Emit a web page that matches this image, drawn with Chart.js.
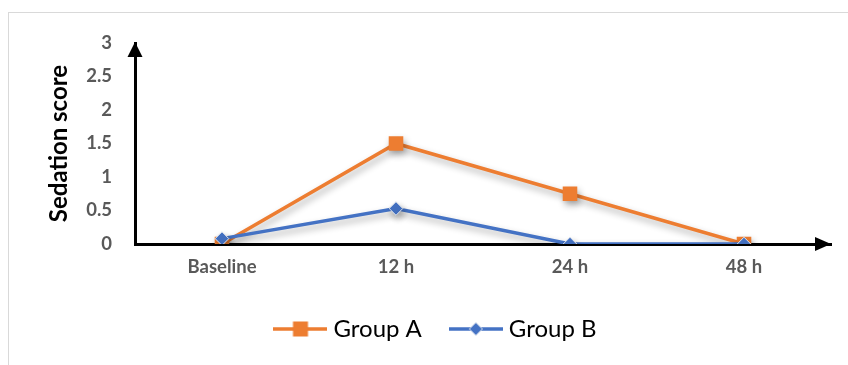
<!DOCTYPE html>
<html>
<head>
<meta charset="utf-8">
<script src="https://cdn.jsdelivr.net/npm/chart.js@4.4.1/dist/chart.umd.min.js"></script>
<style>
  html, body { margin: 0; padding: 0; background: #fff; overflow: hidden; }
  #wrap { position: relative; width: 848px; height: 365px; }
  #frame { position: absolute; left: 8px; top: 12px; width: 900px; height: 400px;
           border: 1px solid #d9d9d9; box-sizing: border-box; }
  canvas { position: absolute; left: 0; top: 0; }
</style>
</head>
<body>
<div id="wrap">
  <div id="frame"></div>
  <canvas id="chart" width="848" height="365"></canvas>
</div>
<script>
// Time points and sedation scores
const timePoints = ['Baseline', '12 h', '24 h', '48 h'];
const groupA = [0, 1.5, 0.75, 0];
const groupB = [0.08, 0.53, 0, 0];
const yTickLabels = ['0', '0.5', '1', '1.5', '2', '2.5', '3'];
const seriesNames = ['Group A', 'Group B'];

const ORANGE = '#ED7D31';
const BLUE = '#4472C4';

// Legend swatches: a short line with the series marker in the middle
function makeSwatch(color, marker) {
  const c = document.createElement('canvas');
  c.width = 54; c.height = 16;
  const g = c.getContext('2d');
  g.strokeStyle = color; g.lineWidth = 3.5;
  g.beginPath(); g.moveTo(0, 8); g.lineTo(54, 8); g.stroke();
  g.fillStyle = color;
  if (marker === 'square') {
    g.fillRect(27 - 7.5, 8 - 7.5, 15, 15);
  } else {
    g.beginPath();
    g.moveTo(27, 1.5); g.lineTo(33.5, 8); g.lineTo(27, 14.5); g.lineTo(20.5, 8); g.closePath();
    g.fill();
    g.strokeStyle = '#dde3ec'; g.lineWidth = 1; g.stroke();
  }
  return c;
}
const swatches = [makeSwatch(ORANGE, 'square'), makeSwatch(BLUE, 'diamond')];

// Soft drop shadow under the series lines
const lineShadow = {
  id: 'lineShadow',
  beforeDatasetsDraw(chart) {
    const ctx = chart.ctx;
    ctx.save();
    ctx.shadowColor = 'rgba(0,0,0,0.32)';
    ctx.shadowBlur = 7;
    ctx.shadowOffsetX = 2;
    ctx.shadowOffsetY = 4;
  },
  afterDatasetsDraw(chart) {
    chart.ctx.restore();
  }
};

// Arrowheads at the ends of both axes
const axisArrows = {
  id: 'axisArrows',
  afterDraw(chart) {
    const { ctx, chartArea } = chart;
    const x0 = chartArea.left, y0 = chartArea.bottom;
    ctx.save();
    ctx.fillStyle = '#000';
    // y axis arrow
    ctx.beginPath();
    ctx.moveTo(x0, chartArea.top - 1);
    ctx.lineTo(x0 + 7.5, chartArea.top + 14);
    ctx.lineTo(x0 - 7.5, chartArea.top + 14);
    ctx.closePath(); ctx.fill();
    // x axis arrow
    ctx.beginPath();
    ctx.moveTo(chartArea.right, y0);
    ctx.lineTo(chartArea.right - 16, y0 - 7);
    ctx.lineTo(chartArea.right - 16, y0 + 7);
    ctx.closePath(); ctx.fill();
    ctx.restore();
  }
};

new Chart(document.getElementById('chart'), {
  type: 'line',
  data: {
    labels: timePoints,
    datasets: [
      {
        label: seriesNames[0],
        data: groupA,
        borderColor: ORANGE,
        backgroundColor: ORANGE,
        borderWidth: 3.5,
        pointStyle: 'rect',
        pointRadius: 10.3,
        pointBorderWidth: 0,
        pointBackgroundColor: ORANGE,
        tension: 0,
        order: 1
      },
      {
        label: seriesNames[1],
        data: groupB,
        borderColor: BLUE,
        backgroundColor: BLUE,
        borderWidth: 3.5,
        pointStyle: 'rectRot',
        pointRadius: 6.8,
        pointBorderWidth: 1,
        pointBorderColor: '#dde3ec',
        pointBackgroundColor: BLUE,
        tension: 0,
        order: 0
      }
    ]
  },
  options: {
    responsive: false,
    animation: false,
    events: [],
    layout: { padding: { left: 45, right: 17, top: 43, bottom: 14 } },
    plugins: {
      tooltip: { enabled: false },
      legend: {
        position: 'bottom',
        labels: {
          usePointStyle: true,
          pointStyleWidth: 42,
          padding: 33,
          color: '#000',
          font: { family: 'Lato', size: 24 },
          generateLabels(chart) {
            return chart.data.datasets.map((ds, i) => ({
              text: ds.label,
              pointStyle: swatches[i],
              fillStyle: ds.borderColor,
              strokeStyle: ds.borderColor,
              lineWidth: 0,
              hidden: false,
              datasetIndex: i
            }));
          }
        }
      }
    },
    scales: {
      x: {
        offset: true,
        grid: { display: false, drawTicks: false },
        border: { display: true, color: '#000', width: 3 },
        afterFit(scale) { scale.height = 40; },
        ticks: {
          color: '#595959',
          font: { family: 'Lato', size: 18.5, weight: 'bold' },
          padding: 12,
          maxRotation: 0
        }
      },
      y: {
        min: 0,
        max: 3,
        grid: { display: false, drawTicks: false },
        border: { display: true, color: '#000', width: 3 },
        afterFit(scale) { scale.width = 90; },
        ticks: {
          stepSize: 0.5,
          color: '#595959',
          font: { family: 'Lato', size: 18.5, weight: 'bold' },
          padding: 23,
          callback: (v, i) => yTickLabels[i]
        },
        title: {
          display: true,
          text: 'Sedation score',
          color: '#000',
          font: { family: 'Lato', size: 24, weight: 'bold' },
          padding: { top: 0, bottom: 0 }
        }
      }
    }
  },
  plugins: [lineShadow, axisArrows]
});
</script>
</body>
</html>
